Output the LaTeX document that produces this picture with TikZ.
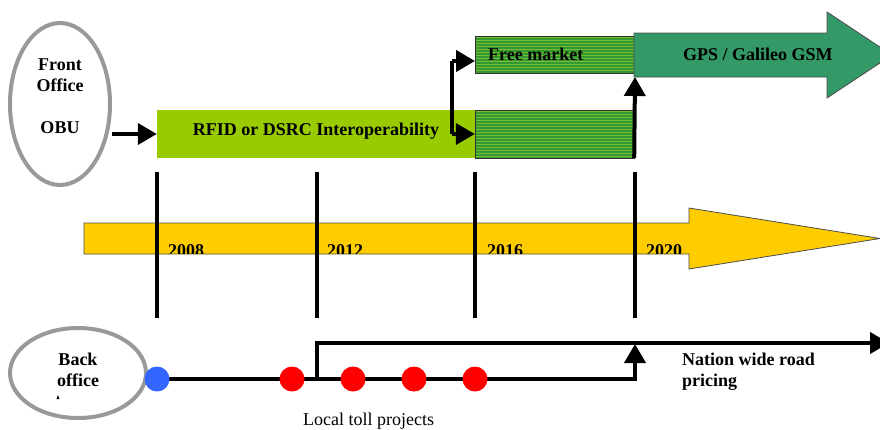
\documentclass[tikz,border=0pt]{standalone}
\usepackage{fontspec}
\setmainfont{Liberation Serif}
\usetikzlibrary{arrows.meta,shapes.geometric,calc}

\definecolor{limegreen}{HTML}{99CC00}
\definecolor{stripedark}{HTML}{339933}
\definecolor{stripelight}{HTML}{77BB33}
\definecolor{gpsgreen}{HTML}{339966}
\definecolor{timeyellow}{HTML}{FFCC00}
\definecolor{ringgray}{HTML}{999999}
\definecolor{dotred}{HTML}{FF0000}
\definecolor{dotblue}{HTML}{3366FF}

\tikzset{
  txt/.style={font=\fontsize{18}{21}\selectfont\bfseries, inner sep=0pt},
  plain/.style={font=\fontsize{18}{21}\selectfont, inner sep=0pt},
  office/.style={ellipse, draw=ringgray, line width=4pt, fill=white, inner sep=0pt},
  bar/.style={rectangle, inner sep=0pt},
  flow/.style={line width=4pt, -{Triangle[length=19pt,width=21pt]}},
  tick/.style={line width=4pt},
  track/.style={line width=4.5pt},
  dot/.style={circle, minimum size=25pt, inner sep=0pt},
}

\begin{document}
\begin{tikzpicture}[x=1pt, y=-1pt]
\clip (0,0) rectangle (880,429);

% ---- front office ----
\node[office, minimum width=100pt, minimum height=162pt] (fo) at (60,104) {};
\node[txt, anchor=base] (fotxt1) at (60,70) {Front};
\node[txt, anchor=base] (fotxt2) at (60,91) {Office};
\node[txt, anchor=base] (fotxt3) at (60,133) {OBU};

% ---- interoperability bar ----
\node[bar, fill=limegreen, minimum width=318pt, minimum height=48pt] (rfid) at (316,134) {};
\node[txt, anchor=base] (rfidtxt) at (316,135) {RFID or DSRC Interoperability};

% striped bar after 2016
\node[bar, fill=stripedark, minimum width=159pt, minimum height=48pt] (stripes) at (554.5,134) {};
\foreach \yy in {111.5,114.5,...,157} \draw[stripelight, line width=1.4pt] (475,\yy) -- (634,\yy);
\draw[black!80, line width=0.8pt] (475,110) rectangle (634,158);

% free market bar
\node[bar, fill=stripedark, minimum width=159pt, minimum height=37pt] (free) at (554.5,54.5) {};
\foreach \yy in {37.5,40.5,...,72} \draw[stripelight, line width=1.4pt] (475,\yy) -- (634,\yy);
\draw[black!80, line width=0.8pt] (475,36) rectangle (634,73);
\node[txt, anchor=base west] (freetxt) at (488,60) {Free market};

% GPS / Galileo block arrow
\draw[black!70, line width=0.8pt, fill=gpsgreen]
  (634,33) -- (827,33) -- (827,12) -- (892,55) -- (827,98) -- (827,77) -- (634,77) -- cycle;
\coordinate (gpsfoot) at (635,77);
\node[txt, anchor=base west] (gpstxt) at (683,60) {GPS / Galileo GSM};

% connectors in the upper row
\draw[flow] (fo.east |- rfid.west) -- (rfid.west);
\coordinate (split) at (452,134);
\coordinate (freein) at (475,61);
\draw[line width=4pt] (split) -- (452,61);
\draw[flow] (452,61) -- (freein);
\draw[flow] (split) -- (stripes.west);
\draw[flow] (stripes.south east) -- (gpsfoot);

% ---- time line ----
\draw[black!70, line width=0.8pt, fill=timeyellow]
  (84,223) -- (689,223) -- (689,208) -- (880,238.5) -- (689,269) -- (689,254) -- (84,254) -- cycle;
\begin{scope}
  \clip (84,223) rectangle (689,253.5);
  \node[txt, anchor=base west] (y2008) at (168,256.5) {2008};
  \node[txt, anchor=base west] (y2012) at (327,256.5) {2012};
  \node[txt, anchor=base west] (y2016) at (487,256.5) {2016};
  \node[txt, anchor=base west] (y2020) at (646,256.5) {2020};
\end{scope}
\foreach \xx in {157,317,475,635} \draw[tick] (\xx,172) -- (\xx,318);

% ---- back office row ----
\node[office, minimum width=136pt, minimum height=90pt] (bo) at (78,373) {};
\node[txt, anchor=base] (botxt1) at (78,365) {Back};
\node[txt, anchor=base] (botxt2) at (78,386) {office};
\fill (56.5,399) -- (58,395) -- (59.5,399) -- cycle;

\coordinate (join) at (317,379);
\coordinate (rise) at (635,344);
\coordinate (nationend) at (889,343);
\draw[track] (157,379) -| ($(rise)+(0,17)$);
\draw[flow] ($(rise)+(0,18)$) -- (rise);
\draw[track] (join) |- (710,343);
\draw[flow] (700,343) -- (nationend);

\node[dot, fill=dotblue] (b0) at (157,379) {};
\node[dot, fill=dotred] (r1) at (292,379) {};
\node[dot, fill=dotred] (r2) at (353,379) {};
\node[dot, fill=dotred] (r3) at (414,379) {};
\node[dot, fill=dotred] (r4) at (475,379) {};

\node[txt, anchor=base west] (nwtxt1) at (682,365) {Nation wide road};
\node[txt, anchor=base west] (nwtxt2) at (682,386) {pricing};
\node[plain, anchor=base west] (localtxt) at (303,425) {Local toll projects};
\end{tikzpicture}
\end{document}
